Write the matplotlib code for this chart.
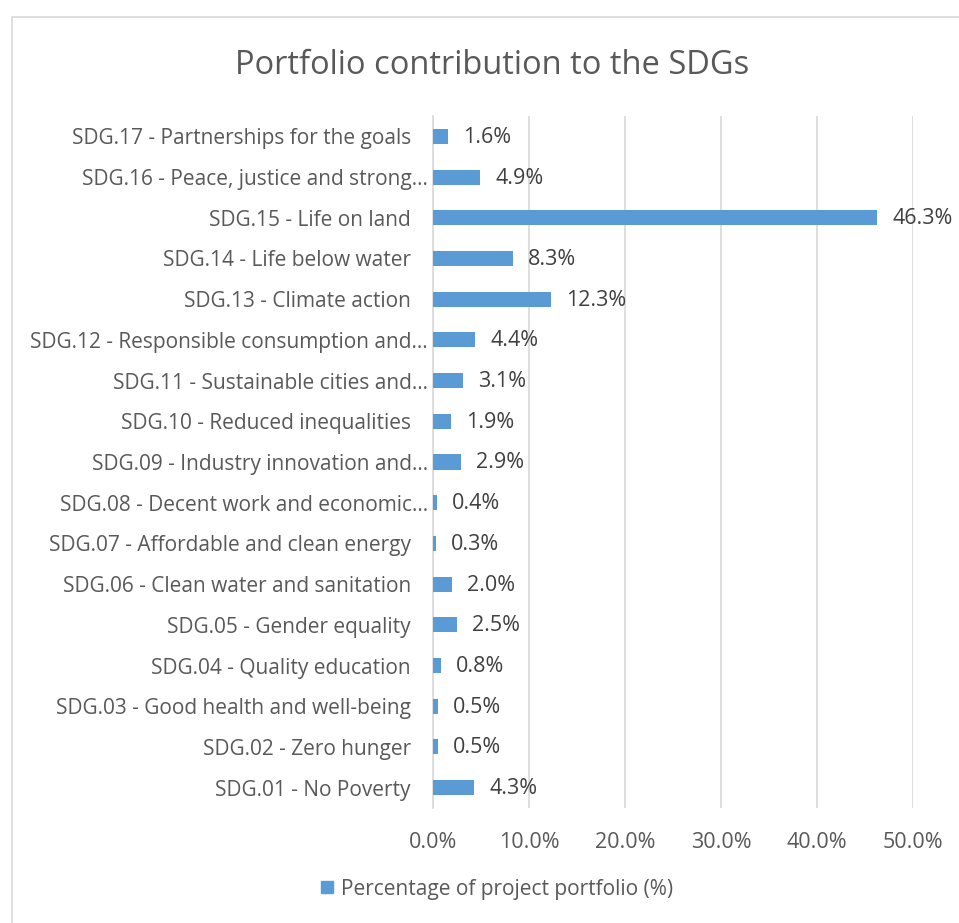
import matplotlib.pyplot as plt
from matplotlib.patches import Rectangle
from matplotlib.lines import Line2D
from matplotlib.transforms import ScaledTranslation

plt.rcParams['font.family'] = ['Open Sans', 'DejaVu Sans']

labels = [
    'SDG.01 - No Poverty',
    'SDG.02 - Zero hunger',
    'SDG.03 - Good health and well-being',
    'SDG.04 - Quality education',
    'SDG.05 - Gender equality',
    'SDG.06 - Clean water and sanitation',
    'SDG.07 - Affordable and clean energy',
    'SDG.08 - Decent work and economic\u2026',
    'SDG.09 - Industry innovation and\u2026',
    'SDG.10 - Reduced inequalities',
    'SDG.11 - Sustainable cities and\u2026',
    'SDG.12 - Responsible consumption and\u2026',
    'SDG.13 - Climate action',
    'SDG.14 - Life below water',
    'SDG.15 - Life on land',
    'SDG.16 - Peace, justice and strong\u2026',
    'SDG.17 - Partnerships for the goals',
]
values = [4.3, 0.5, 0.5, 0.8, 2.5, 2.0, 0.3, 0.4, 2.9, 1.9, 3.1, 4.4, 12.3, 8.3, 46.3, 4.9, 1.6]
ticks = [0, 10, 20, 30, 40, 50]

W, H = 959, 923
fig = plt.figure(figsize=(W / 100, H / 100), dpi=100)
ax = fig.add_axes([433 / W, 1 - 808 / H, 480 / W, 692 / H])

txt = '#595959'
blue = '#5B9BD5'
y = list(range(len(labels)))
ax.barh(y, values, height=0.37, color=blue, zorder=3)
for yi, v in zip(y, values):
    ax.annotate('%.1f%%' % v, (v, yi), xytext=(15, -1), textcoords='offset pixels',
                va='center', ha='left', fontsize=15.5, color='#404040')

ax.set_xlim(0, 50)
ax.set_ylim(-0.5, len(labels) - 0.5)
ax.set_xticks(ticks)
ax.set_xticklabels(['%.1f%%' % t for t in ticks], fontsize=15.5, color=txt)
ax.set_yticks(y)
ax.set_yticklabels(labels, fontsize=15, color=txt)
ax.tick_params(axis='both', length=0)
ax.tick_params(axis='x', pad=17)
ax.tick_params(axis='y', pad=16)
for lbl in ax.get_yticklabels():
    if lbl.get_text().endswith('\u2026'):
        lbl.set_transform(lbl.get_transform() + ScaledTranslation(17 / 100, 0, fig.dpi_scale_trans))
ax.grid(axis='x', color='#d9d9d9', linewidth=1.2, zorder=0)
for s in ['top', 'right', 'bottom']:
    ax.spines[s].set_visible(False)
ax.spines['left'].set_color('#d9d9d9')
ax.spines['left'].set_linewidth(1.2)

fig.text(492 / W, 1 - 65 / H, 'Portfolio contribution to the SDGs', ha='center', va='center',
         fontsize=23.5, color=txt)

handle = Line2D([], [], marker='s', color=blue, linestyle='none', markersize=8)
fig.legend([handle], ['Percentage of project portfolio (%)'], loc='center',
           bbox_to_anchor=(497 / W, 1 - 889 / H), frameon=False, fontsize=15,
           handlelength=0.6, handletextpad=0.35, labelcolor=txt)

fig.patches.append(Rectangle((12 / W, -0.05), 1.1, 1 - 17 / H + 0.05, transform=fig.transFigure,
                             fill=False, edgecolor='#d9d9d9', linewidth=1.2))

fig.savefig('out.png', dpi=100)
